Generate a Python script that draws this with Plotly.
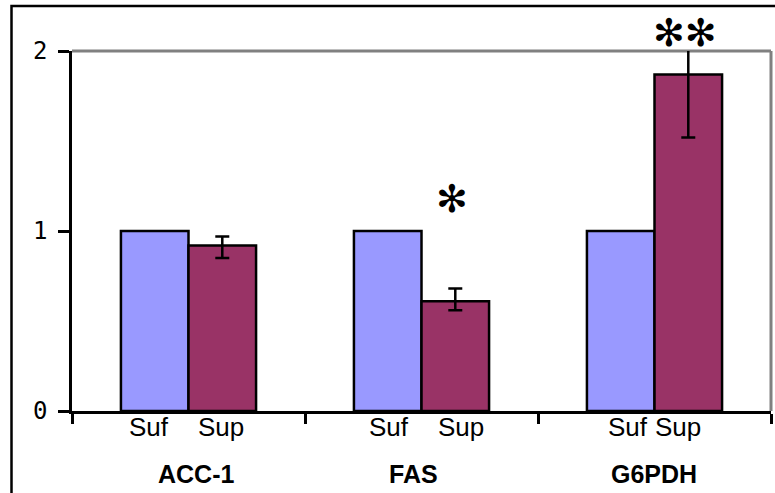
import plotly.graph_objects as go

genes = ["ACC-1", "FAS", "G6PDH"]
suf_values = [1.0, 1.0, 1.0]
sup_values = [0.92, 0.61, 1.87]
sup_err_plus = [0.05, 0.07, 0.16]
sup_err_minus = [0.07, 0.05, 0.35]
group_labels = ["Suf", "Sup"]
significance = ["", "✻", "✻✻"]
sig_y = [None, 1.18, 2.1]
y_ticks = [0, 1, 2]
Y_MAX = 2

SUF_COLOR = "#9999FF"
SUP_COLOR = "#993366"

fig = go.Figure()
fig.add_trace(go.Bar(
    x=genes, y=suf_values, name=group_labels[0],
    marker=dict(color=SUF_COLOR, line=dict(color="black", width=2.5)),
))
fig.add_trace(go.Bar(
    x=genes, y=sup_values, name=group_labels[1],
    marker=dict(color=SUP_COLOR, line=dict(color="black", width=2.5)),
    error_y=dict(type="data", symmetric=False, array=sup_err_plus,
                 arrayminus=sup_err_minus, color="black", thickness=2.5, width=7),
))

annotations = []
suf_shift = [-40, -33, -27]
sup_shift = [32, 39, 23]
name_shift = [7, -8, -1]
LABEL_FONT = dict(family="Liberation Sans, Arial", size=26, color="black")
NAME_FONT = dict(family="Liberation Sans, Arial", size=25, color="black")
for i, g in enumerate(genes):
    annotations.append(dict(x=g, xref="x", y=0, yref="paper", text=group_labels[0],
                            showarrow=False, xshift=suf_shift[i], yshift=-16,
                            yanchor="middle", font=LABEL_FONT))
    annotations.append(dict(x=g, xref="x", y=0, yref="paper", text=group_labels[1],
                            showarrow=False, xshift=sup_shift[i], yshift=-16,
                            yanchor="middle", font=LABEL_FONT))
    annotations.append(dict(x=g, xref="x", y=0, yref="paper", text="<b>" + g + "</b>",
                            showarrow=False, xshift=name_shift[i], yshift=-63,
                            yanchor="middle", font=NAME_FONT))
    if significance[i]:
        annotations.append(dict(x=g, xref="x", y=sig_y[i] / Y_MAX, yref="paper",
                                text=significance[i],
                                showarrow=False, xshift=30, yanchor="middle",
                                font=dict(family="DejaVu Sans", size=38, color="black")))

PW, PH = 699, 360
shapes = [
    # outer frame (only left and top edges fall inside the picture)
    dict(type="rect", xref="paper", yref="paper",
         x0=(11.5 - 72) / PW, x1=1.2, y0=-0.5, y1=(411 - 6) / PH,
         line=dict(color="black", width=2.5), layer="below"),
    # gray plot-area border, top and right
    dict(type="line", xref="paper", yref="paper", x0=0, x1=1, y0=1, y1=1,
         line=dict(color="#808080", width=3), layer="below"),
    dict(type="line", xref="paper", yref="paper", x0=1, x1=1, y0=0, y1=1,
         line=dict(color="#808080", width=3), layer="below"),
]

fig.update_layout(
    width=775, height=493,
    margin=dict(l=72, r=4, t=51, b=82),
    paper_bgcolor="white", plot_bgcolor="white",
    barmode="group", bargap=0.42, bargroupgap=0,
    showlegend=False,
    annotations=annotations,
    shapes=shapes,
    xaxis=dict(type="category", range=[-0.5, 2.5], tickson="boundaries",
               ticks="outside", ticklen=10, tickwidth=2.5, tickcolor="black",
               showticklabels=False, showline=True, linecolor="black", linewidth=2.5,
               showgrid=False, zeroline=False),
    yaxis=dict(range=[0, Y_MAX], tickvals=y_ticks, ticktext=[str(t) for t in y_ticks],
               ticks="outside", ticklen=11, tickwidth=2.5, tickcolor="black",
               showline=True, linecolor="black", linewidth=2.5,
               showgrid=False, zeroline=False, ticklabelstandoff=6,
               tickfont=dict(family="DejaVu Sans Mono", size=24, color="black")),
)

fig.write_html("out.html",
               config={"displayModeBar": False},
               post_script="document.body.style.margin='0';document.body.style.overflow='hidden';")
